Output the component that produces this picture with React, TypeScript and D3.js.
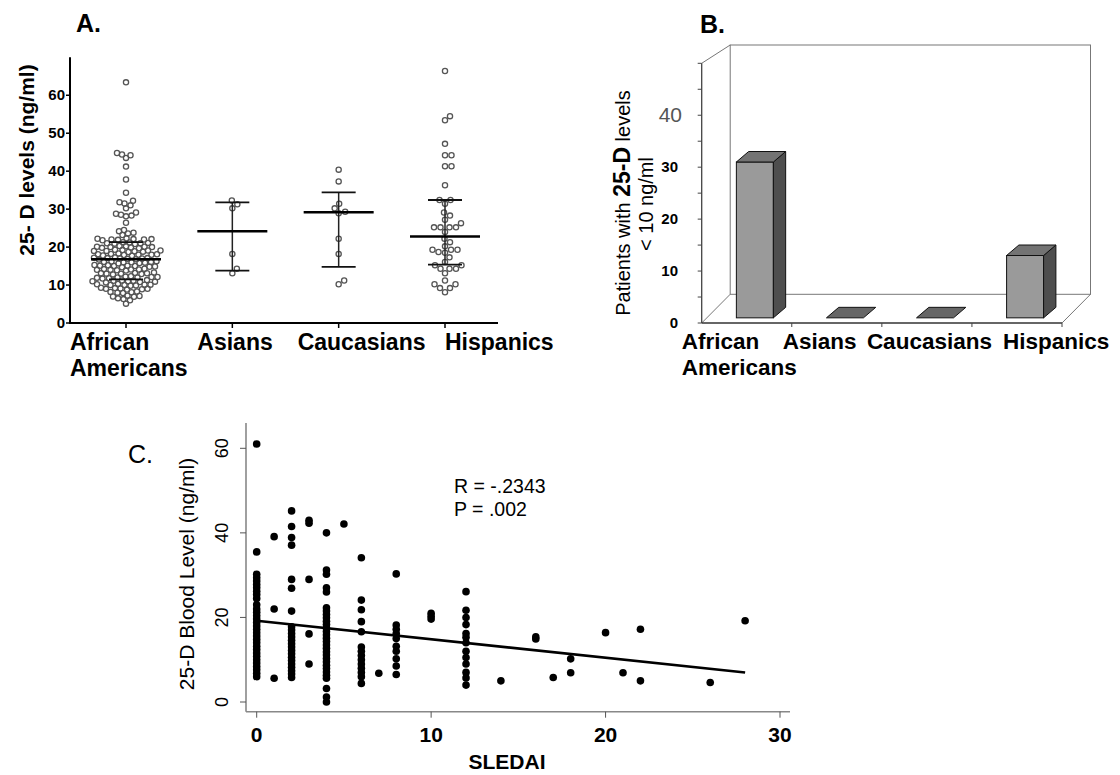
import React from "react";
import * as d3 from "d3";

const FONT = '"Liberation Sans", Arial, Helvetica, sans-serif';

// ---------- Panel A data ----------
const groups = ["African Americans", "Asians", "Caucasians", "Hispanics"];
const africanAmericans = [
  63.4, 44.8, 44.2, 43.5, 44.4, 41.2, 37.8, 34.3, 32.2, 31.8, 31.5, 31.0, 30.2,
  28.8, 28.3, 28.1, 28.5, 29.1, 26.4, 24.2, 23.6, 23.2, 23.8, 24.5,
  22.2, 22.0, 21.9, 22.1, 22.3, 21.8, 22.0, 22.1,
  21.2, 21.0, 20.9, 21.1, 21.3, 20.8, 21.0,
  20.2, 20.0, 19.9, 20.1, 20.3, 19.8, 20.0, 20.1, 19.7,
  19.2, 19.0, 18.9, 19.1, 19.3, 18.8, 19.0, 19.1, 18.7,
  18.2, 18.0, 17.9, 18.1, 18.3, 17.8, 18.0, 18.1, 17.7,
  17.2, 17.0, 16.9, 17.1, 17.3, 16.8, 17.0, 17.1, 16.7,
  16.2, 16.0, 15.9, 16.1, 16.3, 15.8, 16.0, 16.1, 15.7,
  15.2, 15.0, 14.9, 15.1, 15.3, 14.8, 15.0, 15.1, 14.7,
  14.2, 14.0, 13.9, 14.1, 14.3, 13.8, 14.0, 14.1,
  13.2, 13.0, 12.9, 13.1, 13.3, 12.8, 13.0, 13.1,
  12.2, 12.0, 11.9, 12.1, 12.3, 11.8, 12.0, 12.1, 11.7,
  11.2, 11.0, 10.9, 11.1, 11.3, 10.8, 11.0, 11.1, 10.7,
  10.2, 10.0, 9.9, 10.1, 10.3, 9.8, 10.0, 10.1,
  9.2, 9.0, 8.9, 9.1, 9.3, 8.8, 9.0,
  8.2, 8.0, 7.9, 8.1, 8.3,
  7.2, 7.0, 6.9, 7.1,
  6.3, 6.0, 6.5,
  5.1,
];
const asians = [32.3, 31.3, 30.2, 18.2, 14.3, 13.1];
const caucasians = [40.4, 37.3, 31.4, 30.2, 29.3, 28.9, 22.2, 18.2, 11.2, 10.2];
const hispanics = [
  66.4, 54.5, 53.4, 47.2, 44.2, 44.2, 41.3, 41.3, 36.3, 32.4, 32.4, 31.4, 29.1,
  28.3, 27.2, 26.3, 25.2, 25.2, 25.2, 25.2, 24.0, 22.2, 21.3, 20.2, 19.3, 19.3,
  19.3, 18.7, 18.5, 17.3, 16.1, 15.2, 15.2, 14.3, 14.3, 14.3, 13.1, 11.2, 10.2,
  10.2, 9.2, 9.2, 8.1,
];
const groupValues = [africanAmericans, asians, caucasians, hispanics];
const medians = [16.8, 24.2, 29.2, 22.8];
const lowerQuartiles = [11.5, 13.8, 14.8, 15.4];
const upperQuartiles = [21.3, 31.8, 34.4, 32.4];
const yTicksA = [0, 10, 20, 30, 40, 50, 60];

// ---------- Panel B data ----------
const lowVitaminCounts = [30, 0, 0, 12];
const yTicksB = [0, 10, 20, 30, 40];

// ---------- Panel C data ----------
const sledaiGroups: [number, number[]][] = [
  [0, [61, 35.5, 30.2, 29.4, 28.6, 27.8, 27, 26.2, 25.4, 24.5, 23, 22, 21.2, 20.4, 19.6, 18.8, 18, 17.2, 16.4, 15.6, 14.8, 14, 13.2, 12.4, 11.6, 10.8, 10, 9.2, 8.4, 7.6, 6.8, 6.0]],
  [1, [39.1, 22.0, 5.6]],
  [2, [45.2, 41.5, 38.9, 37.1, 29.0, 26.9, 21.5, 17.8, 17, 16.2, 15.4, 14.6, 13.8, 13, 12.2, 11.4, 10.6, 9.8, 9, 8.2, 7.4, 6.6, 5.8]],
  [3, [43, 42.3, 29.0, 16.1, 9.0]],
  [4, [40.0, 31.2, 30.2, 27.0, 26.0, 22.3, 21.5, 20.7, 19.9, 19.1, 18.3, 17.5, 16.7, 15.9, 15.1, 14.3, 13.5, 12.7, 11.9, 11.1, 10.3, 9.5, 8.7, 7.9, 7.1, 6.3, 5.6, 3.2, 1.2, 0]],
  [5, [42.1]],
  [6, [34.1, 24.1, 21.8, 19.0, 16.6, 13.0, 12.0, 11.0, 10.0, 9.0, 8.0, 7.0, 6.0, 4.4]],
  [7, [6.8]],
  [8, [30.3, 18.2, 17.2, 16.2, 15, 13.2, 12, 10.2, 8.5, 6.5]],
  [10, [21.0, 20.3, 19.6]],
  [12, [26.1, 21.7, 20.0, 18.3, 16.2, 15.3, 14.0, 12.0, 10.5, 9.0, 7.0, 5.7, 4.0]],
  [14, [5.0]],
  [16, [15.4, 14.9]],
  [17, [5.8]],
  [18, [10.2, 6.9]],
  [20, [16.4]],
  [21, [6.9]],
  [22, [17.2, 5.0]],
  [26, [4.6]],
  [28, [19.2]],
];
const regIntercept = 19.2;
const regSlope = -0.436;
const regRange = [0, 28];
const xTicksC = [0, 10, 20, 30];
const yTicksC = [0, 20, 40, 60];

// simple beeswarm: place each point as close to the centre as possible
function swarm(values: number[], cx: number, y: (v: number) => number, d: number) {
  const placed: { x: number; y: number }[] = [];
  [...values].sort((a, b) => a - b).forEach((v) => {
    const py = y(v);
    for (let k = 0; k < 400; k++) {
      const off = k === 0 ? 0 : (k % 2 ? 1 : -1) * Math.ceil(k / 2) * 0.5;
      const px = cx + off;
      const hit = placed.some((p) => (p.x - px) ** 2 + (p.y - py) ** 2 < d * d);
      if (!hit) {
        placed.push({ x: px, y: py });
        break;
      }
    }
  });
  return placed;
}

const PanelA = () => {
  const y = d3.scaleLinear().domain([0, 70]).range([323, 57.3]);
  const x = d3.scalePoint().domain(groups).range([126, 445]);
  const labelDx = [-56, -35, -41, 0];
  const spacing = [5.1, 6.3, 6.3, 6.3];
  return (
    <g fontFamily={FONT}>
      <text x={76} y={32} fontSize={25} fontWeight="bold">A.</text>
      <text transform="translate(34,160) rotate(-90)" textAnchor="middle" fontSize={21} fontWeight="bold">
        25- D levels (ng/ml)
      </text>
      <line x1={70} x2={70} y1={y(70)} y2={y(0) + 1} stroke="#000" strokeWidth={2} />
      <line x1={69} x2={498} y1={y(0)} y2={y(0)} stroke="#000" strokeWidth={2} />
      {yTicksA.map((t) => (
        <g key={t}>
          <line x1={66} x2={70} y1={y(t)} y2={y(t)} stroke="#000" strokeWidth={1.5} />
          <text x={65} y={y(t) + 5} textAnchor="end" fontSize={15} fontWeight="bold">{t}</text>
        </g>
      ))}
      {groups.map((g, i) => {
        const cx = x(g)!;
        const pts = swarm(groupValues[i], cx, y, spacing[i]);
        const words = g.split(" ");
        return (
          <g key={g}>
            <line x1={cx} x2={cx} y1={y(0)} y2={y(0) + 5} stroke="#000" strokeWidth={1.5} />
            {words.map((w, j) => (
              <text key={w} x={cx + labelDx[i]} y={350 + j * 26} fontSize={23} fontWeight="bold">{w}</text>
            ))}
            {pts.map((p, j) => (
              <circle key={j} cx={p.x} cy={p.y} r={2.6} fill="none" stroke="#555" strokeWidth={1.3} />
            ))}
            {i > 0 && (
              <line x1={cx} x2={cx} y1={y(lowerQuartiles[i])} y2={y(upperQuartiles[i])} stroke="#222" strokeWidth={1.5} />
            )}
            <line x1={cx - 17} x2={cx + 17} y1={y(lowerQuartiles[i])} y2={y(lowerQuartiles[i])} stroke="#111" strokeWidth={1.8} />
            <line x1={cx - 17} x2={cx + 17} y1={y(upperQuartiles[i])} y2={y(upperQuartiles[i])} stroke="#111" strokeWidth={1.8} />
            <line x1={cx - 35} x2={cx + 35} y1={y(medians[i])} y2={y(medians[i])} stroke="#000" strokeWidth={2.5} />
          </g>
        );
      })}
    </g>
  );
};

const PanelB = () => {
  const y = d3.scaleLinear().domain([0, 50]).range([323, 63.3]);
  const x = d3.scaleBand().domain(groups).range([701.7, 1062]);
  const dX = 28.5;
  const dY = -28.7;
  const backTop = 45;
  const x0 = x.range()[0];
  const x1 = x.range()[1];
  const y0 = y(0);
  const fFront = 0.18;
  const barW = 37;
  const sdx = 12.3;
  const sdy = -10.5;
  const labelDx = [-65, -54, -60, -14];
  const pts = (a: number[][]) => a.map((p) => p.join(",")).join(" ");
  return (
    <g fontFamily={FONT}>
      <text x={700} y={33} fontSize={25} fontWeight="bold">B.</text>
      {/* frame */}
      <rect x={x0 + dX} y={backTop} width={x1 - x0} height={y0 + dY - backTop} fill="none" stroke="#777" strokeWidth={1} />
      <line x1={x0} y1={y(50)} x2={x0 + dX} y2={backTop} stroke="#777" />
      <line x1={x0} y1={y0} x2={x0 + dX} y2={y0 + dY} stroke="#777" />
      <line x1={x1} y1={y0} x2={x1 + dX} y2={y0 + dY} stroke="#777" />
      <line x1={x0} y1={y0} x2={x1} y2={y0} stroke="#333" strokeWidth={1.3} />
      <line x1={x0} y1={y(50)} x2={x0} y2={y0} stroke="#444" strokeWidth={1.3} />
      {d3.range(0, 51, 5).map((t) => (
        <line key={t} x1={x0 - 4} x2={x0} y1={y(t)} y2={y(t)} stroke="#444" />
      ))}
      {yTicksB.map((t) =>
        t === 40 ? (
          <text key={t} x={682} y={y(t) + 7} textAnchor="end" fontSize={21} fill="#555">{t}</text>
        ) : (
          <text key={t} x={678} y={y(t) + 5} textAnchor="end" fontSize={15} fontWeight="bold">{t}</text>
        )
      )}
      {groups.map((g) => (
        <line key={g} x1={x(g)! + x.bandwidth()} x2={x(g)! + x.bandwidth()} y1={y0} y2={y0 + 4} stroke="#444" />
      ))}
      <text transform="translate(630,203) rotate(-90)" textAnchor="middle" fontSize={20}>
        Patients with <tspan fontSize={23} fontWeight="bold">25-D</tspan> levels
      </text>
      <text transform="translate(653,204) rotate(-90)" textAnchor="middle" fontSize={20}>
        &lt; 10 ng/ml
      </text>
      {groups.map((g, i) => {
        const v = lowVitaminCounts[i];
        const fx = x(g)! + x.bandwidth() / 2 - barW / 2 + fFront * dX + 3;
        const yb = y0 + fFront * dY;
        const yt = y(v) + fFront * dY;
        return (
          <g key={g} stroke="#111" strokeWidth={1}>
            {v > 0 && (
              <>
                <rect x={fx} y={yt} width={barW} height={yb - yt} fill="#9a9a9a" />
                <polygon fill="#4e4e4e" points={pts([[fx + barW, yt], [fx + barW + sdx, yt + sdy], [fx + barW + sdx, yb + sdy], [fx + barW, yb]])} />
              </>
            )}
            <polygon fill={v > 0 ? "#737373" : "#666"} points={pts([[fx, yt], [fx + barW, yt], [fx + barW + sdx, yt + sdy], [fx + sdx, yt + sdy]])} />
          </g>
        );
      })}
      {groups.map((g, i) =>
        g.split(" ").map((w, j) => (
          <text key={g + w} x={x(g)! + x.bandwidth() / 2 + labelDx[i]} y={349 + j * 26} fontSize={22.5} fontWeight="bold">{w}</text>
        ))
      )}
    </g>
  );
};

const PanelC = () => {
  const x = d3.scaleLinear().domain([0, 30]).range([256.7, 780]);
  const y = d3.scaleLinear().domain([0, 60]).range([702, 448.3]);
  const line = d3.line<number>().x((d) => x(d)).y((d) => y(regIntercept + regSlope * d));
  const axisY = 711.7;
  const axisX = 246;
  return (
    <g fontFamily={FONT}>
      <text x={128} y={463} fontSize={25}>C.</text>
      <text transform="translate(194,574) rotate(-90)" textAnchor="middle" fontSize={21}>
        25-D Blood Level (ng/ml)
      </text>
      <line x1={axisX} x2={axisX} y1={423} y2={axisY} stroke="#888" strokeWidth={1.6} />
      <line x1={axisX} x2={790} y1={axisY} y2={axisY} stroke="#888" strokeWidth={1.6} />
      {yTicksC.map((t) => (
        <g key={t}>
          <line x1={axisX - 6} x2={axisX} y1={y(t)} y2={y(t)} stroke="#555" />
          <text transform={`translate(228,${y(t)}) rotate(-90)`} textAnchor="middle" fontSize={18}>{t}</text>
        </g>
      ))}
      {xTicksC.map((t) => (
        <g key={t}>
          <line x1={x(t)} x2={x(t)} y1={axisY} y2={axisY + 6} stroke="#555" />
          <text x={x(t)} y={741.5} textAnchor="middle" fontSize={21} fontWeight="bold">{t}</text>
        </g>
      ))}
      <text x={507} y={769} textAnchor="middle" fontSize={21} fontWeight="bold">SLEDAI</text>
      {sledaiGroups.flatMap(([s, vals]) =>
        vals.map((v, j) => <circle key={s + "-" + j} cx={x(s)} cy={y(v)} r={3.8} fill="#000" />)
      )}
      <path d={line(regRange) ?? ""} fill="none" stroke="#000" strokeWidth={2.6} />
      <text x={454} y={493} fontSize={19.5}>R = -.2343</text>
      <text x={454} y={516} fontSize={19.5}>P = .002</text>
    </g>
  );
};

export default function App() {
  return (
    <svg width={1120} height={775} style={{ position: "absolute", left: 0, top: 0, background: "#fff" }}>
      <rect width={1120} height={775} fill="#fff" />
      <PanelA />
      <PanelB />
      <PanelC />
    </svg>
  );
}
